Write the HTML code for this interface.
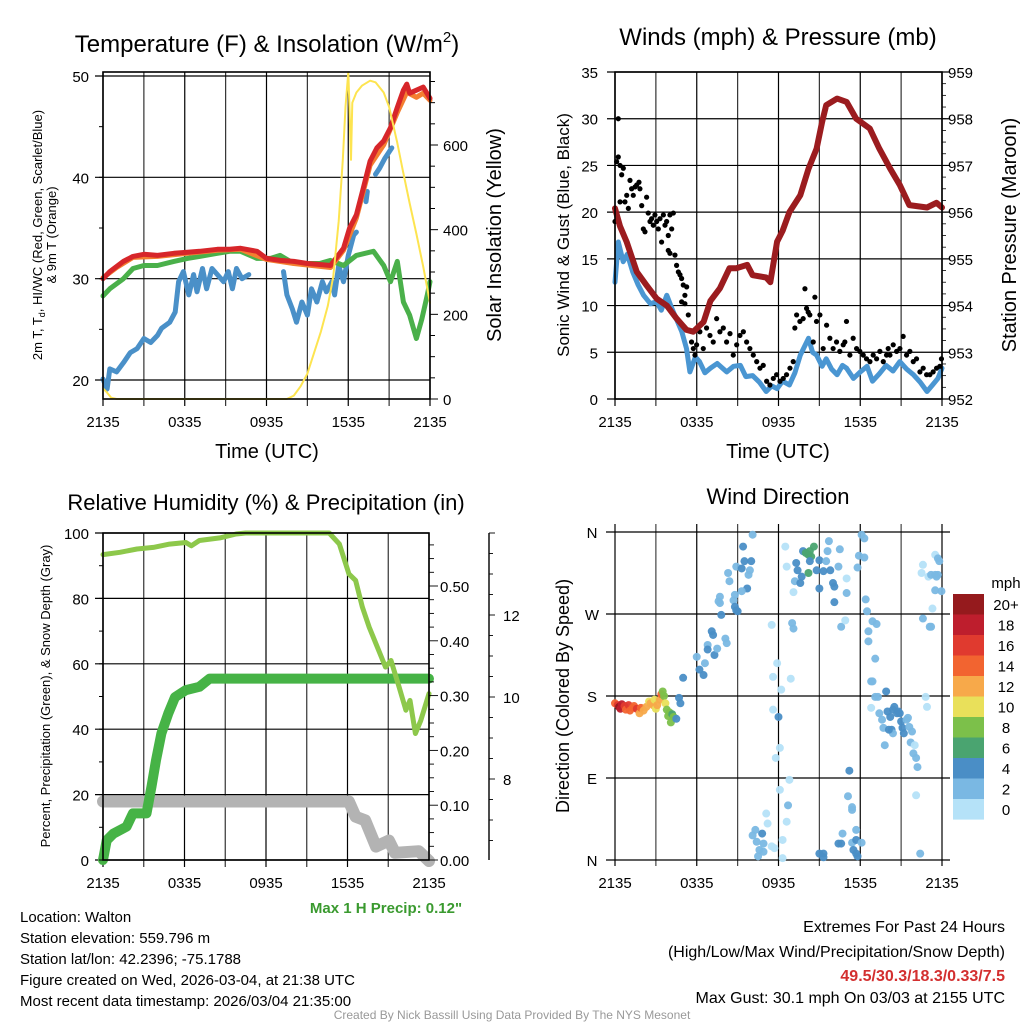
<!DOCTYPE html>
<html><head><meta charset="utf-8">
<style>
html,body{margin:0;padding:0;background:#fff;}
svg{display:block;font-family:"Liberation Sans",sans-serif;}
</style></head>
<body>
<svg id="chart" width="1024" height="1024" viewBox="0 0 1024 1024" xmlns="http://www.w3.org/2000/svg">
<rect width="1024" height="1024" fill="#fff"/>
<g id="grid"></g>
<g id="marks"></g>
<g id="axes"></g>
<g id="labels" font-size="15">
 <text x="267" y="52" text-anchor="middle" font-size="24">Temperature (F) &amp; Insolation (W/m<tspan font-size="15" dy="-10">2</tspan><tspan dy="10">)</tspan></text>
 <text transform="translate(42,235) rotate(-90)" text-anchor="middle" font-size="13">2m T, T<tspan font-size="9" dy="3">d</tspan><tspan dy="-3">, HI/WC (Red, Green, Scarlet/Blue)</tspan></text>
 <text transform="translate(56,235) rotate(-90)" text-anchor="middle" font-size="13">&amp; 9m T (Orange)</text>
 <text transform="translate(501,235) rotate(-90)" text-anchor="middle" font-size="20">Solar Insolation (Yellow)</text>
 <text x="267" y="458" text-anchor="middle" font-size="20">Time (UTC)</text>

 <text x="778" y="45" text-anchor="middle" font-size="24">Winds (mph) &amp; Pressure (mb)</text>
 <text transform="translate(569,235) rotate(-90)" text-anchor="middle" font-size="17">Sonic Wind &amp; Gust (Blue, Black)</text>
 <text transform="translate(1016,235) rotate(-90)" text-anchor="middle" font-size="20">Station Pressure (Maroon)</text>
 <text x="778" y="458" text-anchor="middle" font-size="20">Time (UTC)</text>

 <text x="266" y="510" text-anchor="middle" font-size="22">Relative Humidity (%) &amp; Precipitation (in)</text>
 <text transform="translate(50,696) rotate(-90)" text-anchor="middle" font-size="13">Percent, Precipitation (Green), &amp; Snow Depth (Gray)</text>
 <text x="386" y="913" text-anchor="middle" font-size="15" font-weight="bold" fill="#3a9a2f">Max 1 H Precip: 0.12"</text>

 <text x="778" y="504" text-anchor="middle" font-size="22">Wind Direction</text>
 <text transform="translate(569,696) rotate(-90)" text-anchor="middle" font-size="18">Direction (Colored By Speed)</text>
 <text x="1006" y="588" text-anchor="middle" font-size="15">mph</text>

 <g>
  <text x="20" y="922">Location: Walton</text>
  <text x="20" y="943">Station elevation: 559.796 m</text>
  <text x="20" y="964">Station lat/lon: 42.2396; -75.1788</text>
  <text x="20" y="985">Figure created on Wed, 2026-03-04, at 21:38 UTC</text>
  <text x="20" y="1006">Most recent data timestamp: 2026/03/04 21:35:00</text>
 </g>
 <g text-anchor="end" font-size="16">
  <text x="1005" y="932">Extremes For Past 24 Hours</text>
  <text x="1005" y="957">(High/Low/Max Wind/Precipitation/Snow Depth)</text>
  <text x="1005" y="981" fill="#d32f2f" font-weight="bold">49.5/30.3/18.3/0.33/7.5</text>
  <text x="1005" y="1003">Max Gust: 30.1 mph On 03/03 at 2155 UTC</text>
 </g>
 <text x="512" y="1019" text-anchor="middle" font-size="12" fill="#999">Created By Nick Bassill Using Data Provided By The NYS Mesonet</text>
</g>
</svg>
<script>
// ---------- DATA ----------
const xTickLabels = ["2135","0335","0935","1535","2135"];
const tempLeftTicks = [20,30,40,50];
const tempRightTicks = [0,200,400,600];
const windLeftTicks = [0,5,10,15,20,25,30,35];
const pressTicks = [952,953,954,955,956,957,958,959];
const rhTicks = [0,20,40,60,80,100];
const precipTicks = [0.00,0.10,0.20,0.30,0.40,0.50];
const snowTicks = [8,10,12];
const dirLabels = ["N","E","S","W","N"];
const dirTicks = [0,90,180,270,360];
const cbLabels = ["20+","18","16","14","12","10","8","6","4","2","0"];
const cbColors = ["#951a1d","#be1e2d","#e03a2f","#f26430","#f7a94a","#e9e05a","#7cc04a","#4aa470","#4a8ec6","#7ab8e3","#b5e2f8"];

const redH = [0,0.5,1,1.5,2.2,3,4,5.2,6.2,7.1,8.4,9.3,10.1,11.3,12,13,14,15,15.9,16.7,17.2,17.65,18.1,18.6,19.1,19.6,20.1,20.6,21.1,21.6,22.05,22.3,22.5,23,23.5,24];
const redV = [30.0,30.7,31.2,31.7,32.2,32.4,32.3,32.5,32.6,32.7,32.9,32.9,33.0,32.7,32.0,31.8,31.7,31.5,31.4,31.3,32.2,33.0,35.0,36.3,38.9,41.6,42.9,43.6,44.9,46.9,48.6,49.2,48.3,48.6,48.9,47.8];
const orangeH = [0,1,2.2,4,6.2,8.4,10.1,12,14,16.7,17.65,18.6,19.6,20.6,21.6,22.3,23,23.5,24];
const orangeV = [30.1,31.1,32.1,32.2,32.5,32.8,32.9,31.9,31.5,31.1,32.8,36.0,41.2,43.2,46.4,48.4,47.9,48.3,47.6];
const greenH = [0,0.5,1.5,2.2,3,4,5.2,6.2,7.1,8.4,9.3,10.1,11.3,12.3,13,14,15,15.9,16.7,17.65,18.6,19.85,20.6,21.1,21.6,22.05,22.5,23,23.4,23.8,24];
const greenV = [28.3,29.0,30.0,31.0,31.3,31.3,31.7,32.0,32.2,32.5,32.7,32.7,32.0,32.0,32.3,31.5,31.5,31.5,31.8,31.3,32.3,32.7,31.3,29.7,31.7,27.7,26.4,24.1,26.0,28.4,29.7];
const blueH = [0,0.3,0.5,1,1.5,2,2.5,3,3.5,4,4.3,4.9,5.3,5.55,5.9,6.3,6.65,6.9,7.3,7.6,8,8.4,8.85,9.2,9.5,9.8,10.2,10.7,10.8,13.25,13.5,13.9,14.2,14.6,15,15.3,15.7,16.1,16.4,16.8,17,17.3,17.65,18,18.4,18.6,18.7,19.3,19.4,19.5,20,20.3,20.7,21.2];
const blueV = [20.1,19.1,21.1,20.8,21.7,22.7,23.1,24.1,23.7,24.4,25.1,25.7,26.7,29.7,30.7,28.4,30.4,28.7,31.0,29.0,31.0,30.4,29.7,30.7,29.0,31.0,30.0,30.4,null,30.7,28.4,27.0,25.7,27.7,26.4,29.0,27.7,29.7,28.7,29.7,28.4,31.3,29.7,32.3,34.3,34.6,null,37.6,38.6,null,40.3,40.9,41.9,42.9];
const solarH = [0,0.3,0.6,1,13.5,14,14.5,15,15.5,16,16.5,16.9,17.3,17.6,17.8,18,18.1,18.2,18.3,18.6,19,19.6,20,20.6,21,21.6,22,22.5,23,23.5,24];
const solarV = [25,15,3,0,0,8,30,60,110,160,220,290,420,565,690,772,680,565,700,724,740,752,748,724,690,605,540,463,390,313,227];

const pressH = [0,0.37,0.86,1.6,2.3,3.05,3.8,4.5,5.25,5.75,6.5,7.0,7.7,8.4,8.9,9.7,10.1,11.1,11.4,11.9,12.3,12.8,13.6,14.2,14.8,15.2,15.5,16.3,17.0,17.7,18.7,19.4,20.2,20.9,21.6,22.9,23.6,24];
const pressV = [956.08,955.7,955.36,954.72,954.44,954.15,954.0,953.73,953.48,953.44,953.65,954.1,954.37,954.8,954.8,954.87,954.65,954.6,954.5,955.37,955.6,956.0,956.36,956.93,957.36,957.93,958.29,958.43,958.36,958.0,957.79,957.36,956.93,956.58,956.15,956.1,956.2,956.1];
const sonicH = [0,0.24,0.6,0.9,1.3,1.7,2.1,2.6,3.05,3.4,3.8,4.2,4.5,4.9,5.25,5.5,5.9,6.2,6.6,7,7.5,8.2,8.7,9.2,9.6,10.1,10.6,11.1,11.5,11.9,12.3,12.8,13.2,13.6,14.2,14.5,14.8,15.2,15.5,15.9,16.3,16.7,17,17.5,18,18.5,18.9,19.4,19.9,20.4,20.9,21.4,21.9,22.4,22.9,23.3,23.7,24];
const sonicV = [12.5,16.8,14.7,15.5,13.6,12.2,11.1,10.2,10.4,9.5,11.1,9.6,8.6,7.2,5.4,2.9,4.5,4.0,2.8,3.3,3.8,2.9,3.5,3.6,2.4,2.5,1.8,0.8,1.4,1.1,1.9,1.5,2.8,4.7,6.5,5.0,4.7,3.5,4.3,3.2,2.6,3.6,3.3,2.2,2.9,3.5,1.9,2.7,3.6,3.0,4.0,3.2,2.6,1.8,0.8,1.5,2.2,3.3];
const gustH = [0,0.24,0.12,0.24,0.37,0.49,0.61,0.37,0.73,0.86,0.98,1.1,1.22,1.34,1.47,1.59,1.76,1.83,1.96,2.08,2.2,2.32,2.44,2.57,2.69,2.81,2.93,3.06,3.18,3.3,3.42,3.55,3.67,3.79,3.91,4.03,4.16,4.28,3.91,4.03,4.4,4.52,4.65,4.77,4.89,5.01,5.13,5.26,4.89,5.13,5.38,5.62,5.75,5.87,5.99,6.23,6.48,6.72,6.97,7.21,7.46,7.7,7.95,8.19,8.44,8.68,8.93,9.17,9.42,9.66,9.9,10.15,10.4,10.64,10.88,11.13,11.37,11.62,11.86,12.11,12.35,12.59,12.84,13.08,13.2,13.33,13.57,13.81,13.94,14.06,14.18,14.3,14.55,14.67,14.79,15.04,15.28,15.53,15.77,16.01,16.26,16.5,16.75,16.87,16.99,17.24,17.48,17.73,17.97,18.22,18.46,18.71,18.95,19.2,19.44,19.69,19.93,20.05,20.18,20.42,20.67,20.91,21.15,21.4,21.64,21.89,22.13,22.38,22.62,22.87,23.11,23.35,23.6,23.84,23.96];
const gustV = [19.0,30.0,25.4,25.9,25.0,24.0,24.7,21.1,21.1,21.8,20.4,23.4,22.5,21.8,22.7,22.9,23.2,22.5,20.7,18.2,17.9,21.6,19.9,19.0,19.3,18.6,19.7,19.0,18.2,19.3,16.8,19.7,18.6,19.0,17.5,19.7,18.2,19.9,15.9,15.6,15.4,14.3,13.6,13.3,12.9,12.2,11.1,12.0,10.4,10.2,9.0,6.1,5.4,4.7,5.8,7.2,5.4,7.6,6.8,6.1,8.6,7.2,7.6,6.1,7.0,4.7,5.8,6.8,7.2,6.1,5.4,4.7,4.0,3.3,3.6,1.9,1.5,2.2,2.6,1.9,2.2,2.6,3.3,4.0,7.6,9.0,8.3,8.6,11.8,9.7,9.3,9.0,6.1,10.9,8.3,9.0,5.4,7.9,6.5,5.4,6.1,5.1,5.8,6.1,8.3,4.7,6.5,5.4,5.1,4.7,4.3,4.0,4.7,4.3,5.1,4.0,4.7,5.4,4.7,5.8,5.1,5.4,6.7,4.7,5.1,4.0,4.3,2.9,3.3,2.6,2.6,2.9,3.3,3.5,4.3,4.5];

const rhH = [0,1.25,2.5,3.7,4.9,6.1,6.5,7.1,8.6,9.8,10.5,16.65,17.4,18.1,18.6,19.1,19.6,20.3,20.8,21.2,21.8,22.3,22.6,23.0,23.4,23.7,24];
const rhV = [93.4,94.1,95.1,95.6,96.6,97.1,96.1,97.7,98.5,99.7,100,100,96.6,87.5,85.5,77.3,71.2,64.1,59.0,61.0,52.9,45.8,48.8,38.7,42.7,46.8,50.9];
const precipH = [0,0.27,0.76,1.74,2.2,3.2,3.57,3.9,4.3,4.8,5.3,6.1,7.1,7.85,24];
const precipV = [0,0.036,0.048,0.061,0.085,0.085,0.134,0.182,0.231,0.267,0.297,0.31,0.316,0.331,0.331];
const snowH = [0,18.1,18.6,19.3,20.1,21.05,21.5,23.25,24];
const snowV = [7.45,7.45,7.08,6.99,6.35,6.5,6.2,6.24,6.0];

// wind direction points: hour, direction (deg), speed (mph)
const wdH = [0,0.2,0.3,0.4,0.5,0.7,0.8,1.0,1.1,1.3,1.4,1.6,1.8,1.9,2.1,2.3,2.5,2.6,2.8,2.9,3.0,3.1,3.3,3.4,3.5,3.6,3.7,3.8,3.9,4.0,4.1,4.2,4.3,4.5,4.7,4.8,5.0,
 6.0,6.2,6.5,6.6,6.8,6.8,7.1,7.2,7.3,7.5,7.7,7.8,8.1,8.2,7.6,7.7,8.3,8.4,8.7,8.8,8.9,9.0,8.9,9.3,9.4,9.5,9.7,9.8,9.9,10.0,10.1,9.3,8.8,
 10.1,10.3,10.4,10.6,10.5,10.8,10.9,11.1,11.2,11.5,11.7,12.3,12.3,12.6,12.7,12.1,12.8,10.9,
 11.5,11.9,11.6,12.2,12.9,11.6,12.0,12.1,11.8,13.0,13.1,
 12.5,12.6,13.1,13.2,13.3,13.4,13.6,13.7,13.8,14.0,14.2,14.3,14.4,14.6,14.2,14.3,14.8,15.0,15.0,15.3,15.5,15.6,15.7,15.8,16.0,16.1,16.1,16.4,16.5,16.6,16.9,17.0,17.0,17.9,17.8,18.1,18.3,18.3,18.4,18.5,18.6,18.6,18.9,19.2,19.1,18.8,18.9,19.1,19.3,18.8,19.9,
 17.2,17.1,17.4,17.4,17.7,16.7,16.4,16.6,17.4,17.7,18.1,17.5,17.7,17.8,15.3,15.3,15.0,
 19.4,19.6,19.7,19.8,20.0,20.2,20.3,20.4,20.5,20.7,20.8,20.9,20.4,20.1,21.0,21.1,21.2,21.4,21.6,21.8,21.5,21.7,21.9,22.0,22.1,22.2,22.1,22.4,22.6,23.1,23.2,23.3,22.8,22.9,22.5,22.6,23.0,23.2,23.5,23.7,23.8,23.6,23.7,23.5,23.96,23.5];
const wdDir = [172,170,168,166,171,169,165,170,164,167,169,166,161,167,164,168,174,172,170,176,166,170,176,182,185,180,172,165,158,162,151,160,157,155,178,172,200,
 223,209,203,216,236,231,251,247,225,232,282,269,243,238,284,289,315,306,285,291,274,273,322,320,344,328,298,313,318,328,357,295,278,
 27,33,20,11,4,29,18,51,40,15,13,2,22,42,60,77,88,9,
 258,216,201,187,199,165,157,123,112,260,254,
 344,322,294,306,326,318,304,311,339,337,335,339,333,344,315,328,318,298,329,317,328,339,350,318,304,300,283,322,341,256,263,293,309,334,321,357,353,332,286,273,251,240,262,259,221,196,196,179,179,167,185,
 98,70,58,55,33,29,18,18,19,22,19,11,7,4,7,3,7,
 161,154,145,126,163,157,143,165,168,161,163,161,139,143,152,145,139,154,146,141,156,129,117,126,112,102,71,7,265,256,256,276,179,168,315,324,311,313,335,331,328,311,313,296,295,313];
const wdSpd = [13,16,19,18,17,16,14,15,14,14,13,15,12,13,12,11,10,12,12,10,10,11,12,13,8,8,9,8,8,7,8,6,7,4,4,3,3,
 2,4,4,2,2,4,4,4,4,2,2,4,2,2,2,2,2,2,2,2,4,4,2,4,4,4,4,2,2,4,2,2,4,
 2,2,2,2,2,4,2,0,0,0,0,0,0,0,2,0,0,2,
 0,0,0,0,0,0,4,0,0,2,2,
 0,0,0,2,4,4,4,4,4,6,6,6,6,6,6,4,4,4,4,4,2,2,2,4,4,4,4,2,2,2,0,2,0,2,2,2,2,2,2,2,2,2,2,2,2,2,2,2,2,0,4,
 4,2,2,2,2,2,4,4,2,4,2,4,4,4,4,4,4,
 2,2,2,2,4,4,4,4,4,4,4,4,2,4,4,4,4,2,2,2,2,2,2,0,2,2,0,2,2,2,2,0,0,0,0,0,0,2,0,2,2,2,2,2,2,2];

// ---------- HELPERS ----------
const NS = "http://www.w3.org/2000/svg";
const gGrid = document.getElementById('grid');
const gMarks = document.getElementById('marks');
const gAxes = document.getElementById('axes');
function lin(d0,d1,r0,r1){return v=>r0+(v-d0)*(r1-r0)/(d1-d0);}
function mk(tag, parent, attrs){const e=document.createElementNS(NS,tag);for(const k in attrs)e.setAttribute(k,attrs[k]);parent.appendChild(e);return e;}
function line(parent,x1,y1,x2,y2,stroke,w){return mk('line',parent,{x1:x1,y1:y1,x2:x2,y2:y2,stroke:stroke,'stroke-width':w});}
function txt(parent,x,y,s,anchor,size){const t=mk('text',parent,{x:x,y:y,'text-anchor':anchor,'font-size':size});t.textContent=s;return t;}
function pathD(hs,vs,sx,sy){let d='',pen=false;for(let i=0;i<hs.length;i++){if(vs[i]===null){pen=false;continue;}d+=(pen?'L':'M')+sx(hs[i]).toFixed(1)+','+sy(vs[i]).toFixed(1);pen=true;}return d;}
function series(name,hs,vs,sx,sy,color,w){const p=mk('path',gMarks,{d:pathD(hs,vs,sx,sy),fill:'none',stroke:color,'stroke-width':w,'stroke-linejoin':'round','stroke-linecap':'round'});


return p;}
function xAxis(sx,top,bottom,labelY){for(let h=0;h<=24;h+=3){line(gGrid,sx(h),top,sx(h),bottom+7,(h%6===0)?'#000':'#333',1.2);}
 xTickLabels.forEach((s,i)=>{const t=txt(gAxes,sx(i*6),labelY,s,'middle',15);
 
 });}

// ---------- PANEL 1: Temperature ----------
const X1=lin(0,24,103,430), Y1=lin(20,50,380,76), Y1R=lin(0,600,399,145);
xAxis(X1,72,399,427);
tempLeftTicks.forEach(v=>{line(gGrid,95,Y1(v),430,Y1(v),'#000',1.2);const t=txt(gAxes,89,Y1(v)+6,String(v),'end',15);
 
 });
for(let v=20;v<=50;v+=5){line(gAxes,99,Y1(v),103,Y1(v),'#000',1);}
for(let v=0;v<=750;v+=50){line(gAxes,430,Y1R(v),v%200===0?438:435,Y1R(v),'#000',1);}
tempRightTicks.forEach(v=>{const t=txt(gAxes,443,Y1R(v)+6,String(v),'start',15);
 
 });
mk('rect',gAxes,{x:103,y:72,width:327,height:327,fill:'none',stroke:'#000','stroke-width':1.6});
series('blue-temp-line',blueH,blueV,X1,Y1,'#4a90c8',5);
series('green-temp-line',greenH,greenV,X1,Y1,'#4ab04a',5);
series('orange-9m-temp-line',orangeH,orangeV,X1,Y1,'#f47e30',5);
series('red-2m-temp-line',redH,redV,X1,Y1,'#d7262a',5);
series('solar-insolation-line',solarH,solarV,X1,Y1R,'#fde450',2);

// ---------- PANEL 2: Winds ----------
const X2=lin(0,24,615,942), Y2=lin(0,35,399,72), Y2R=lin(952,959,399,72);
xAxis(X2,72,399,427);
windLeftTicks.forEach(v=>{line(gGrid,607,Y2(v),950,Y2(v),'#000',1.2);const t=txt(gAxes,598,Y2(v)+6,String(v),'end',15);
 
 });
for(let v=952;v<=959.001;v+=0.25){line(gAxes,942,Y2R(v),946,Y2R(v),'#000',0.8);}
pressTicks.forEach(v=>{const t=txt(gAxes,948,Y2R(v)+6,String(v),'start',15);
 
 });
mk('rect',gAxes,{x:615,y:72,width:327,height:327,fill:'none',stroke:'#000','stroke-width':1.6});
series('sonic-wind-line',sonicH,sonicV,X2,Y2,'#4a96d2',5);
const gGust=mk('g',gMarks,{});


gustH.forEach((h,i)=>{const c=mk('circle',gGust,{cx:X2(h),cy:Y2(gustV[i]),r:2.6,fill:'#000'});
 
 });
series('pressure-line',pressH,pressV,X2,Y2R,'#9b1c1f',6);

// ---------- PANEL 3: RH & Precip ----------
const X3=lin(0,24,103,429), Y3=lin(0,100,860,533), Y3P=lin(0,0.5,860,586), Y3S=lin(8,12,779,615);
xAxis(X3,533,860,888);
rhTicks.forEach(v=>{line(gGrid,95,Y3(v),429,Y3(v),'#000',1.2);const t=txt(gAxes,89,Y3(v)+6,String(v),'end',15);
 
 });
for(let v=0;v<=100;v+=10){line(gAxes,99,Y3(v),103,Y3(v),'#000',1);}
for(let v=0;v<=0.6;v+=0.025){line(gAxes,429,Y3P(v),Math.abs(v*10-Math.round(v*10))<0.01?438:434,Y3P(v),'#000',0.9);}
precipTicks.forEach(v=>{const t=txt(gAxes,440,Y3P(v)+6,v.toFixed(2),'start',15);
 
 });
line(gAxes,489,533,489,860,'#000',1.4);
for(let v=6.5;v<=14;v+=0.5){line(gAxes,489,Y3S(v),Number.isInteger(v/2)?495:493,Y3S(v),'#000',0.9);}
snowTicks.forEach(v=>{const t=txt(gAxes,503,Y3S(v)+6,String(v),'start',15);
 
 });
mk('rect',gAxes,{x:103,y:533,width:326,height:327,fill:'none',stroke:'#000','stroke-width':1.6});
series('snow-depth-line',snowH,snowV,X3,Y3S,'#b3b3b3',12);
series('precip-line',precipH,precipV,X3,Y3P,'#46b346',10);
series('rh-line',rhH,rhV,X3,Y3,'#8dc84b',5);

// ---------- PANEL 4: Wind direction ----------
const X4=lin(0,24,615,942), Y4=lin(0,360,860,532);
for(let h=0;h<=24;h+=3){line(gGrid,X4(h),524,X4(h),866,(h%6===0)?'#000':'#444',1.2);}
xTickLabels.forEach((s,i)=>{const t=txt(gAxes,X4(i*6),888,s,'middle',15);
 
 });
dirTicks.forEach((v,i)=>{line(gGrid,606,Y4(v),950,Y4(v),'#000',1.2);const t=txt(gAxes,592,Y4(v)+6,dirLabels[i],'middle',15);
 
 });
const gDir=mk('g',gMarks,{});


wdH.forEach((h,i)=>{const idx=Math.min(10,Math.floor((wdSpd[i]+1)/2));const c=mk('circle',gDir,{cx:X4(h),cy:Y4(wdDir[i]),r:4,fill:cbColors[10-idx],'fill-opacity':0.95});
 
 });
const gCb=mk('g',gAxes,{});


cbColors.forEach((c,i)=>{mk('rect',gCb,{x:953,y:594+i*20.5,width:31,height:20.6,fill:c});
 const t=txt(gCb,1006,594+i*20.5+16,cbLabels[i],'middle',15);
 
 });
</script>
</body></html>
